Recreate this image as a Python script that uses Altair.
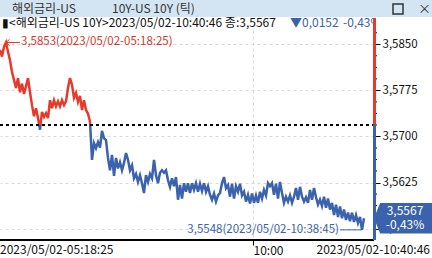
import altair as alt
import pandas as pd

# ---- data ----
rates = [
    3.5841, 3.5830, 3.5846, 3.5853, 3.5838, 3.5824, 3.5805, 3.5792, 3.5779, 3.5795,
    3.5772, 3.5786, 3.5769, 3.5782, 3.5795, 3.5772, 3.5751, 3.5733, 3.5746, 3.5730,
    3.5711, 3.5740, 3.5732, 3.5738, 3.5730, 3.5759, 3.5746, 3.5759, 3.5749, 3.5757,
    3.5749, 3.5759, 3.5751, 3.5757, 3.5779, 3.5795, 3.5784, 3.5763, 3.5771, 3.5756,
    3.5766, 3.5743, 3.5759, 3.5743, 3.5737, 3.5724, 3.5662, 3.5689, 3.5681, 3.5691,
    3.5682, 3.5709, 3.5697, 3.5694, 3.5665, 3.5645, 3.5670, 3.5636, 3.5665, 3.5648,
    3.5658, 3.5645, 3.5657, 3.5673, 3.5662, 3.5645, 3.5653, 3.5632, 3.5639, 3.5626,
    3.5637, 3.5624, 3.5608, 3.5637, 3.5626, 3.5639, 3.5632, 3.5662, 3.5637, 3.5624,
    3.5641, 3.5645, 3.5641, 3.5645, 3.5629, 3.5618, 3.5632, 3.5619, 3.5634, 3.5597,
    3.5621, 3.5599, 3.5624, 3.5610, 3.5624, 3.5608, 3.5624, 3.5613, 3.5624, 3.5610,
    3.5623, 3.5611, 3.5624, 3.5610, 3.5619, 3.5605, 3.5597, 3.5607, 3.5594, 3.5604,
    3.5608, 3.5624, 3.5634, 3.5616, 3.5621, 3.5602, 3.5623, 3.5599, 3.5619, 3.5610,
    3.5623, 3.5604, 3.5610, 3.5594, 3.5605, 3.5591, 3.5607, 3.5592, 3.5604, 3.5592,
    3.5610, 3.5599, 3.5613, 3.5604, 3.5624, 3.5619, 3.5624, 3.5605, 3.5623, 3.5599,
    3.5626, 3.5608, 3.5592, 3.5602, 3.5594, 3.5604, 3.5592, 3.5602, 3.5616, 3.5597,
    3.5618, 3.5602, 3.5594, 3.5601, 3.5592, 3.5613, 3.5597, 3.5616, 3.5601, 3.5589,
    3.5597, 3.5587, 3.5602, 3.5584, 3.5599, 3.5581, 3.5592, 3.5572, 3.5589, 3.5569,
    3.5586, 3.5567, 3.5581, 3.5564, 3.5576, 3.5562, 3.5576, 3.5561, 3.5572, 3.5559,
    3.5569, 3.5548, 3.5567,
]
prev_close = 3.5719
major_ticks = [3.5550, 3.5625, 3.5700, 3.5775, 3.5850]
minor_ticks = [3.556875, 3.55875, 3.560625, 3.564375, 3.56625, 3.568125,
               3.571875, 3.57375, 3.575625, 3.579375, 3.58125, 3.583125, 3.586875]
tick_10_index = 126.5
start_label = "2023/05/02-05:18:25"
end_label = "2023/05/02-10:40:46"
max_label = "3,5853(2023/05/02-05:18:25)"
min_label = "3,5548(2023/05/02-10:38:45)"
box_label = ["3,5567", "-0,43%"]
title_left = "해외금리-US"
title_right = "10Y-US 10Y (틱)"
header_black = "▮<해외금리-US 10Y>2023/05/02-10:40:46 종:3,5567"
header_change = "▼0,0152"
header_pct = "-0,43%"

RED = "#e63b2c"
BLUE = "#3a62ad"
FONT = "Noto Sans CJK KR"

W, H = 374, 222
y_dom = [3.55315, 3.58928]
x_dom = [0, 187]

df = pd.DataFrame({"i": list(range(len(rates))), "v": rates})
vmax, vmin = max(rates), min(rates)
t = (vmax - prev_close) / (vmax - vmin)
imax, imin = rates.index(vmax), rates.index(vmin)

xs = alt.Scale(domain=x_dom, nice=False, zero=False)
ys = alt.Scale(domain=y_dom, nice=False, zero=False)

grad = alt.LinearGradient(
    gradient="linear",
    stops=[alt.GradientStop(color=RED, offset=0), alt.GradientStop(color=RED, offset=t),
           alt.GradientStop(color=BLUE, offset=t), alt.GradientStop(color=BLUE, offset=1)],
    x1=0, x2=0, y1=0, y2=1,
)

line = alt.Chart(df).mark_line(strokeWidth=2.5, color=grad).encode(
    x=alt.X("i:Q", scale=xs, axis=alt.Axis(
        values=[tick_10_index], labelExpr="'10:00'", orient="bottom", title=None,
        grid=True, gridDash=[3, 3], gridColor="#d9d9d9", domain=False,
        tickColor="#000", tickSize=5, labelAlign="left", labelBaseline="top",
        labelPadding=0, labelFont=FONT, labelFontSize=12, labelColor="#111")),
    y=alt.Y("v:Q", scale=ys, axis=alt.Axis(
        values=major_ticks, orient="right", title=None,
        labelExpr="replace(format(datum.value, '.4f'), '.', ',')",
        grid=True, gridDash=[3, 3], gridColor="#d9d9d9", domain=False,
        tickColor="#000", tickSize=6, labelPadding=2, labelFont=FONT,
        labelFontSize=11.5, labelColor="#111", labelBaseline="middle")),
)

prev_rule = alt.Chart(df).mark_rule(color="#000", strokeWidth=1, strokeDash=[3, 3]).encode(
    y=alt.datum(prev_close), x=alt.value(0), x2=alt.value(W))

minor = alt.Chart(pd.DataFrame({"m": minor_ticks})).mark_rule(color="#000").encode(
    y=alt.Y("m:Q", scale=ys), x=alt.value(W), x2=alt.value(W + 3))

axdf = pd.DataFrame({"top": [y_dom[1]], "pc": [prev_close], "bot": [y_dom[0]]})
red_bar = alt.Chart(axdf).mark_rule(color=RED, strokeWidth=3).encode(
    x=alt.value(W + 0.5), y=alt.Y("top:Q", scale=ys), y2="pc:Q")
blue_bar = alt.Chart(axdf).mark_rule(color=BLUE, strokeWidth=3).encode(
    x=alt.value(W + 0.5), y=alt.Y("pc:Q", scale=ys), y2="bot:Q")

bottom_line = alt.Chart(df).mark_rule(color="#000", strokeWidth=1).encode(
    x=alt.value(0), x2=alt.value(W), y=alt.value(H))

# annotations
maxdf = pd.DataFrame({"i": [imax], "v": [vmax], "txt": [max_label]})
mindf = pd.DataFrame({"i": [imin], "v": [vmin], "txt": [min_label]})
max_arrow = alt.Chart(maxdf).mark_point(
    shape="M0,0 L2,0 M0,0 L0.5,-0.45 M0,0 L0.5,0.45", filled=False,
    stroke="#d2392b", strokeWidth=1, size=196, opacity=1).encode(
    x=alt.X("i:Q", scale=xs), y=alt.Y("v:Q", scale=ys))
max_text = alt.Chart(maxdf).mark_text(
    align="left", baseline="middle", dx=15, font=FONT, fontSize=11.5, color="#d2392b").encode(
    x=alt.X("i:Q", scale=xs), y=alt.Y("v:Q", scale=ys), text="txt:N")
min_arrow = alt.Chart(mindf).mark_point(
    shape="M0,0 L-2,0", filled=False, stroke=BLUE, strokeWidth=1, size=484, opacity=1).encode(
    x=alt.X("i:Q", scale=xs), y=alt.Y("v:Q", scale=ys))
min_text = alt.Chart(mindf).mark_text(
    align="right", baseline="middle", dx=-23, font=FONT, fontSize=11.5, color=BLUE).encode(
    x=alt.X("i:Q", scale=xs), y=alt.Y("v:Q", scale=ys), text="txt:N")

# right value box
lastdf = pd.DataFrame({"v": [rates[-1]], "a": [box_label[0]], "b": [box_label[1]]})
box = alt.Chart(lastdf).mark_point(
    shape="M-1,0 L-0.8,-0.49 L1,-0.49 L1,0.49 L-0.8,0.49 Z", filled=True,
    fill=BLUE, stroke=BLUE, size=3364, opacity=1).encode(
    x=alt.value(W + 30), y=alt.Y("v:Q", scale=ys))
box_t1 = alt.Chart(lastdf).mark_text(
    align="center", baseline="middle", dy=-7, font=FONT, fontSize=12, color="#fff").encode(
    x=alt.value(W + 31), y=alt.Y("v:Q", scale=ys), text="a:N")
box_t2 = alt.Chart(lastdf).mark_text(
    align="center", baseline="middle", dy=7, font=FONT, fontSize=12, color="#fff").encode(
    x=alt.value(W + 31), y=alt.Y("v:Q", scale=ys), text="b:N")

# header
one = pd.DataFrame({"k": [0]})
title_bg = alt.Chart(one).mark_rect(color="#d3e5f2").encode(
    x=alt.value(0), x2=alt.value(432), y=alt.value(-18), y2=alt.value(-1))
header_bg = alt.Chart(one).mark_rect(color="#ffffff").encode(
    x=alt.value(0), x2=alt.value(W), y=alt.value(-1), y2=alt.value(10))
header_clip = alt.Chart(one).mark_rect(color="#ffffff").encode(
    x=alt.value(W + 2), x2=alt.value(432), y=alt.value(-1), y2=alt.value(10))
max_btn = alt.Chart(one).mark_rect(filled=False, stroke="#333", strokeWidth=1.5).encode(
    x=alt.value(393), x2=alt.value(403), y=alt.value(-14), y2=alt.value(-4))


def txt(s, x, y, align="left", color="#222", size=12):
    return alt.Chart(one).mark_text(
        align=align, baseline="middle", font=FONT, fontSize=size, color=color, text=s).encode(
        x=alt.value(x), y=alt.value(y))


layers = [
    line, prev_rule, minor, bottom_line, header_bg,
    txt(header_black, 2, 5, color="#111", size=12),
    txt(header_change, 290, 5, color=BLUE, size=12),
    txt(header_pct, 343, 5, color=BLUE, size=12),
    header_clip,
    red_bar, blue_bar,
    max_arrow, max_text, min_arrow, min_text,
    box, box_t1, box_t2,
    title_bg,
    txt(title_left, 12, -9.5, color="#333", size=12),
    txt(title_right, 112, -9.5, color="#333", size=12),
    max_btn,
    txt("×", 418, -9, color="#333", size=13),
    txt(start_label, 0, 232, color="#111"),
    txt(end_label, 430, 232, align="right", color="#111"),
]

chart = alt.layer(*layers).properties(
    width=W, height=H,
    autosize=alt.AutoSizeParams(type="none"),
    padding={"left": 0, "top": 18, "right": 432 - W, "bottom": 258 - 18 - H},
    background="#ffffff",
).configure_view(stroke=None)

chart.save("out.html", embed_options={"renderer": "svg", "actions": False})
